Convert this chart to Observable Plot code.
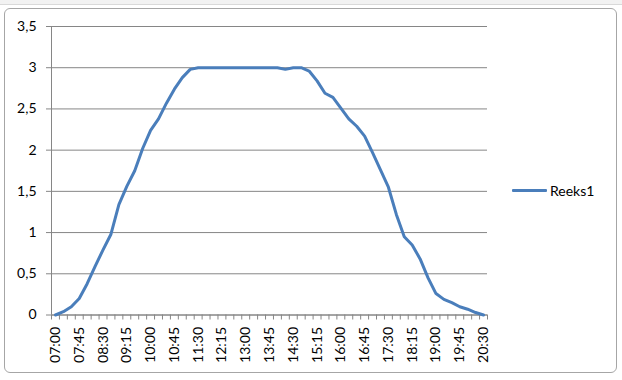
<!DOCTYPE html>
<html>
<head>
<meta charset="utf-8">
<script src="https://cdn.jsdelivr.net/npm/d3@7"></script>
<script src="https://cdn.jsdelivr.net/npm/@observablehq/plot@0.6"></script>
<style>
  html, body { margin: 0; padding: 0; background: #ffffff; }
  #wrap { position: relative; width: 622px; height: 380px; overflow: hidden; background: #ffffff; }
  #topbar { position: absolute; left: 0; top: 0; width: 622px; height: 4px; background: #f2f2f2; border-bottom: 1px solid #d9d9d9; }
  #frame { position: absolute; left: 4px; top: 8px; width: 611px; height: 363px; border: 1px solid #a6a6a6; border-radius: 6px; background: #ffffff; }
  #chart { position: absolute; left: 0; top: 0; }
  #legend { position: absolute; left: 512px; top: 182px; font-family: Lato, "Open Sans", sans-serif; font-size: 14px; color: #000; display: flex; align-items: center; }
  #legend .sw { width: 35px; height: 3px; background: #4a7ebb; margin-right: 3px; border-radius: 1px; }
</style>
</head>
<body>
<div id="wrap">
  <div id="topbar"></div>
  <div id="frame"></div>
  <div id="chart"></div>
  <div id="legend"><span class="sw"></span><span id="legendLabel"></span></div>
</div>
<script>
const seriesName = "Reeks1";
const times = ["07:00","07:15","07:30","07:45","08:00","08:15","08:30","08:45","09:00","09:15","09:30","09:45",
  "10:00","10:15","10:30","10:45","11:00","11:15","11:30","11:45","12:00","12:15","12:30","12:45",
  "13:00","13:15","13:30","13:45","14:00","14:15","14:30","14:45","15:00","15:15","15:30","15:45",
  "16:00","16:15","16:30","16:45","17:00","17:15","17:30","17:45","18:00","18:15","18:30","18:45",
  "19:00","19:15","19:30","19:45","20:00","20:15","20:30"];
const values = [0, 0.04, 0.1, 0.2, 0.38, 0.59, 0.79, 0.98, 1.34, 1.56, 1.75, 2.02,
  2.24, 2.38, 2.57, 2.74, 2.88, 2.98, 3.0, 3.0, 3.0, 3.0, 3.0, 3.0,
  3.0, 3.0, 3.0, 3.0, 3.0, 2.98, 3.0, 3.0, 2.96, 2.84, 2.69, 2.64,
  2.51, 2.38, 2.29, 2.17, 1.97, 1.76, 1.55, 1.22, 0.95, 0.85, 0.68, 0.45,
  0.26, 0.19, 0.15, 0.1, 0.07, 0.03, 0.0];
const tickLabels = ["07:00","07:45","08:30","09:15","10:00","10:45","11:30","12:15","13:00","13:45",
  "14:30","15:15","16:00","16:45","17:30","18:15","19:00","19:45","20:30"];
const yTicks = [0, 0.5, 1, 1.5, 2, 2.5, 3, 3.5];

const data = times.map((t, i) => ({time: t, i, value: values[i]}));
const labelIdx = tickLabels.map(l => times.indexOf(l));
const boundaries = times.map((t, i) => i - 0.5).concat([times.length - 0.5]);
const gridColor = "#868686";

document.getElementById("legendLabel").textContent = seriesName;

const chart = Plot.plot({
  width: 622,
  height: 380,
  marginLeft: 51,
  marginRight: 135,
  marginTop: 26,
  marginBottom: 65.5,
  style: {fontFamily: "Lato, 'Open Sans', sans-serif", fontSize: "14px", color: "#000", background: "transparent", overflow: "visible"},
  x: {type: "linear", domain: [-0.5, times.length - 0.5]},
  y: {domain: [0, 3.5]},
  marks: [
    Plot.gridY(yTicks, {stroke: gridColor, strokeOpacity: 1}),
    Plot.axisY(yTicks, {tickSize: 5, tickPadding: 10, stroke: gridColor, fill: "#000",
      tickFormat: d => String(d).replace(".", ","), label: null}),
    Plot.ruleX([-0.5], {stroke: gridColor}),
    Plot.ruleY([0], {stroke: gridColor}),
    Plot.axisX(boundaries, {tickSize: 5, stroke: gridColor, tickFormat: () => "", label: null}),
    Plot.axisX(labelIdx, {tickSize: 0, tickPadding: 12, tickRotate: -90, fill: "#000",
      tickFormat: i => times[i], label: null}),
    Plot.line(data, {x: "i", y: "value", stroke: "#4a7ebb", strokeWidth: 3, strokeLinejoin: "round", strokeLinecap: "round"})
  ]
});
document.getElementById("chart").appendChild(chart);
</script>
</body>
</html>
